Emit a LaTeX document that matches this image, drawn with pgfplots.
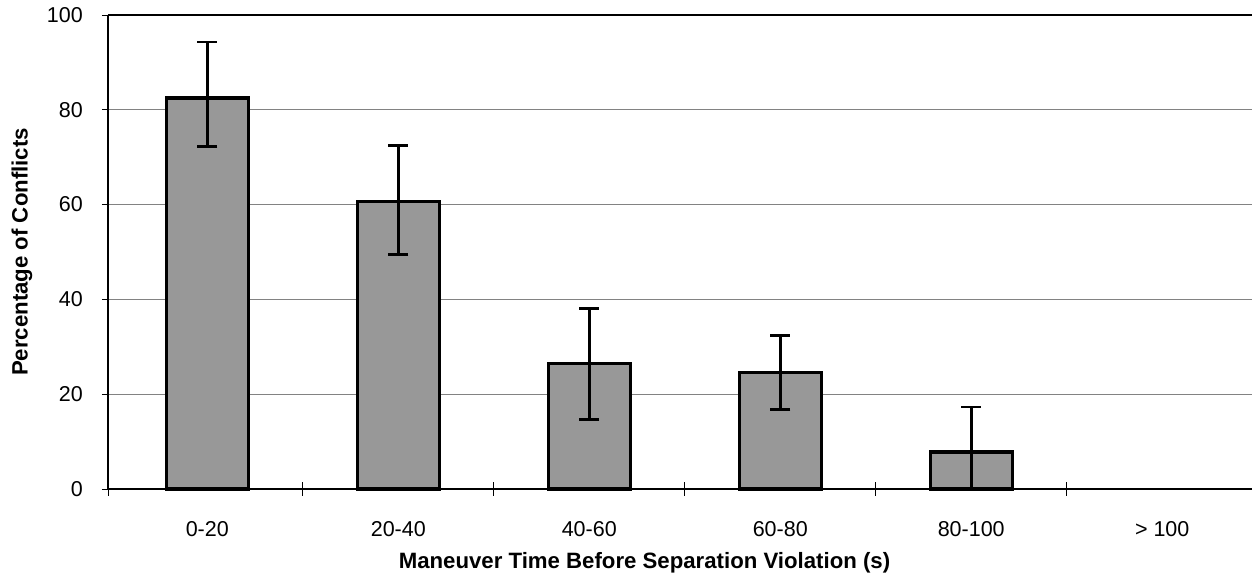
\documentclass[border=0pt]{standalone}
\usepackage{fontspec}
\setmainfont{Liberation Sans}
\usepackage{pgfplots}
\pgfplotsset{compat=1.18}
\definecolor{barfill}{RGB}{152,152,152}
\definecolor{gridgray}{RGB}{130,130,130}

\begin{document}
\begin{tikzpicture}
\begin{axis}[
    scale only axis,
    width=1144pt,
    height=474pt,
    ybar,
    bar width=0.43,
    xmin=-0.52, xmax=5.47,
    ymin=0, ymax=100,
    axis x line*=box,
    axis y line*=left,
    xtick pos=bottom,
    x axis line style={line width=2.8pt},
    y axis line style={line width=2.2pt},
    xtick={0,1,2,3,4,5},
    xticklabels={0-20,20-40,40-60,60-80,80-100,> 100},
    xtick style={draw=none},
    extra x ticks={-0.52,0.5,1.5,2.5,3.5,4.5},
    extra x tick labels={},
    extra x tick style={tick align=center, major tick length=14pt, xtick pos=bottom,
        xtick style={draw=black, line width=0.8pt}},
    ytick={0,20,40,60,80,100},
    tick align=outside,
    major tick length=6pt,
    ytick style={black, line width=0.8pt},
    ymajorgrids,
    major grid style={gridgray, line width=0.9pt},
    /pgf/number format/assume math mode=true,
    font=\fontsize{21.5}{25}\selectfont,
    yticklabel style={anchor=east, inner sep=0pt, xshift=-19pt},
    xticklabel style={anchor=base, inner sep=0pt, yshift=-42pt},
    xlabel={\fontsize{22.2}{26}\selectfont\bfseries Maneuver Time Before Separation Violation (s)},
    ylabel={\fontsize{22.2}{26}\selectfont\bfseries Percentage of Conflicts},
    every axis x label/.style={at={(rel axis cs:0.469,0)}, anchor=base, yshift=-79pt},
    every axis y label/.style={at={(rel axis cs:0,0.5)}, rotate=90, anchor=center, yshift=86pt},
    clip=false,
]
\addplot[draw=black, line width=3.2pt, fill=barfill,
    error bars/.cd, y dir=both, y explicit,
    error bar style={black, line width=2.8pt},
    error mark options={black, rotate=90, mark size=10pt, line width=2.8pt}]
coordinates {
    (0,82.5) += (0,11.8) -= (0,10.2)
    (1,60.7) += (0,11.8) -= (0,11.2)
    (2,26.4) += (0,11.7) -= (0,11.8)
    (3,24.5) += (0,7.8) -= (0,7.8)
    (4,7.8) += (0,9.5) -= (0,7.6)
};
\end{axis}
\pgfresetboundingbox
\path[use as bounding box] (-108pt,-86pt) rectangle (1144pt,489pt);
\end{tikzpicture}
\end{document}
